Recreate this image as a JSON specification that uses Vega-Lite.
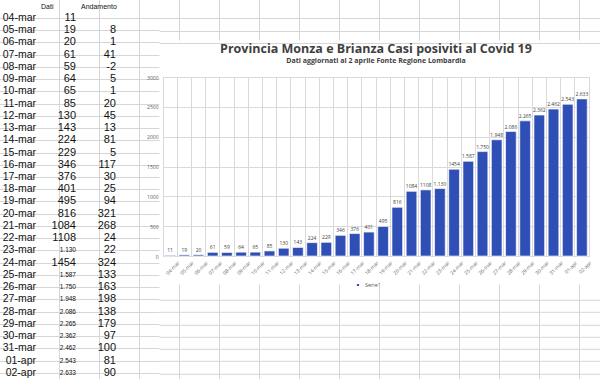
{
  "$schema": "https://vega.github.io/schema/vega-lite/v6.json",
  "padding": 0,
  "background": "white",
  "spacing": 20,
  "bounds": "flush",
  "config": {"view": {"stroke": null}},
  "resolve": {"scale": {"color": "independent"}, "legend": {"color": "independent"}},
  "datasets": {
    "casi": [
      {"date": "04-mar", "dati": 11, "label": "11", "and": null},
      {"date": "05-mar", "dati": 19, "label": "19", "and": 8},
      {"date": "06-mar", "dati": 20, "label": "20", "and": 1},
      {"date": "07-mar", "dati": 61, "label": "61", "and": 41},
      {"date": "08-mar", "dati": 59, "label": "59", "and": -2},
      {"date": "09-mar", "dati": 64, "label": "64", "and": 5},
      {"date": "10-mar", "dati": 65, "label": "65", "and": 1},
      {"date": "11-mar", "dati": 85, "label": "85", "and": 20},
      {"date": "12-mar", "dati": 130, "label": "130", "and": 45},
      {"date": "13-mar", "dati": 143, "label": "143", "and": 13},
      {"date": "14-mar", "dati": 224, "label": "224", "and": 81},
      {"date": "15-mar", "dati": 229, "label": "229", "and": 5},
      {"date": "16-mar", "dati": 346, "label": "346", "and": 117},
      {"date": "17-mar", "dati": 376, "label": "376", "and": 30},
      {"date": "18-mar", "dati": 401, "label": "401", "and": 25},
      {"date": "19-mar", "dati": 495, "label": "495", "and": 94},
      {"date": "20-mar", "dati": 816, "label": "816", "and": 321},
      {"date": "21-mar", "dati": 1084, "label": "1084", "and": 268},
      {"date": "22-mar", "dati": 1108, "label": "1108", "and": 24},
      {"date": "23-mar", "dati": 1130, "label": "1.130", "and": 22},
      {"date": "24-mar", "dati": 1454, "label": "1454", "and": 324},
      {"date": "25-mar", "dati": 1587, "label": "1.587", "and": 133},
      {"date": "26-mar", "dati": 1750, "label": "1.750", "and": 163},
      {"date": "27-mar", "dati": 1948, "label": "1.948", "and": 198},
      {"date": "28-mar", "dati": 2086, "label": "2.086", "and": 138},
      {"date": "29-mar", "dati": 2265, "label": "2.265", "and": 179},
      {"date": "30-mar", "dati": 2362, "label": "2.362", "and": 97},
      {"date": "31-mar", "dati": 2462, "label": "2.462", "and": 100},
      {"date": "01-apr", "dati": 2543, "label": "2.543", "and": 81},
      {"date": "02-apr", "dati": 2633, "label": "2.633", "and": 90}
    ]
  },
  "hconcat": [
    {
      "width": 143,
      "height": 379,
      "data": {"name": "casi"},
      "encoding": {
        "y": {
          "field": "date", "type": "nominal",
          "scale": {
            "domain": ["hdr", "04-mar", "05-mar", "06-mar", "07-mar", "08-mar", "09-mar", "10-mar", "11-mar", "12-mar", "13-mar", "14-mar", "15-mar", "16-mar", "17-mar", "18-mar", "19-mar", "20-mar", "21-mar", "22-mar", "23-mar", "24-mar", "25-mar", "26-mar", "27-mar", "28-mar", "29-mar", "30-mar", "31-mar", "01-apr", "02-apr", "end"],
            "range": [-3.5, 388.2], "paddingInner": 0, "paddingOuter": 0
          },
          "axis": {
            "values": ["04-mar", "05-mar", "06-mar", "07-mar", "08-mar", "09-mar", "10-mar", "11-mar", "12-mar", "13-mar", "14-mar", "15-mar", "16-mar", "17-mar", "18-mar", "19-mar", "20-mar", "21-mar", "22-mar", "23-mar", "24-mar", "25-mar", "26-mar", "27-mar", "28-mar", "29-mar", "30-mar", "31-mar", "01-apr", "02-apr", "end"],
            "bandPosition": 0, "grid": true, "gridColor": "#d6d6d6", "labels": false, "ticks": false, "domain": false, "title": null, "minExtent": 0, "maxExtent": 0
          }
        }
      },
      "layer": [
        {
          "transform": [{"fold": ["date"], "as": ["col", "val"]}],
          "mark": {"type": "text", "align": "right", "baseline": "middle", "dx": 17, "font": "Liberation Sans", "fontSize": 10.5, "color": "#111111"},
          "encoding": {
            "x": {
              "field": "col", "type": "nominal",
              "scale": {"domain": ["date", "label", "and", "D"], "range": [-1, 159], "paddingInner": 0, "paddingOuter": 0},
              "axis": {"values": ["label", "and", "D"], "bandPosition": 0, "grid": true, "gridColor": "#d6d6d6", "labels": false, "ticks": false, "domain": false, "title": null, "minExtent": 0, "maxExtent": 0}
            },
            "text": {"field": "val"}
          }
        },
        {
          "transform": [
            {"fold": ["label", "and"], "as": ["col", "val"]},
            {"filter": "datum.val != null && indexof(toString(datum.val), '.') < 0"}
          ],
          "mark": {"type": "text", "align": "right", "baseline": "middle", "dx": 17, "font": "Liberation Sans Narrow, Arial Narrow, Liberation Sans", "fontSize": 11, "color": "#111111"},
          "encoding": {
            "x": {"field": "col", "type": "nominal"},
            "text": {"field": "val"}
          }
        },
        {
          "transform": [
            {"fold": ["label"], "as": ["col", "val"]},
            {"filter": "indexof(toString(datum.val), '.') >= 0"}
          ],
          "mark": {"type": "text", "align": "right", "baseline": "middle", "dx": 17, "font": "Liberation Sans", "fontSize": 6.5, "color": "#111111"},
          "encoding": {
            "x": {"field": "col", "type": "nominal"},
            "text": {"field": "val"}
          }
        },
        {
          "data": {"values": [{"h": "Dati", "c": "label"}, {"h": "Andamento", "c": "and"}]},
          "mark": {"type": "text", "align": "left", "baseline": "middle", "dx": -18, "dy": 1, "font": "Liberation Sans", "fontSize": 7, "color": "#111111"},
          "encoding": {
            "x": {"field": "c", "type": "nominal"},
            "y": {"datum": "hdr", "type": "nominal"},
            "text": {"field": "h"}
          }
        }
      ]
    },
    {
      "spacing": 40,
      "bounds": "flush",
      "resolve": {"scale": {"color": "independent"}, "legend": {"color": "independent"}},
      "vconcat": [
        {
          "width": 437,
          "height": 34,
          "data": {"values": [{"c": "E", "r": "r0"}]},
          "mark": {"type": "text", "text": ""},
          "encoding": {
            "x": {
              "field": "c", "type": "nominal",
              "scale": {"domain": ["E", "F", "G", "H", "I", "J", "K", "L", "M", "N", "O", "P"], "range": [-4, 476], "paddingInner": 0, "paddingOuter": 0},
              "axis": {"values": ["E", "F", "G", "H", "I", "J", "K", "L", "M", "N", "O", "P"], "bandPosition": 0, "grid": true, "gridColor": "#d6d6d6", "labels": false, "ticks": false, "domain": false, "title": null, "minExtent": 0, "maxExtent": 0}
            },
            "y": {
              "field": "r", "type": "nominal",
              "scale": {"domain": ["r0", "r1", "r2", "r3"], "range": [-3, 45.96], "paddingInner": 0, "paddingOuter": 0},
              "axis": {"values": ["r1", "r2", "r3"], "bandPosition": 0, "grid": true, "gridColor": "#d6d6d6", "labels": false, "ticks": false, "domain": false, "title": null, "minExtent": 0, "maxExtent": 0}
            }
          }
        },
        {
          "spacing": 37.8,
          "bounds": "flush",
          "resolve": {"scale": {"color": "independent"}, "legend": {"color": "independent"}},
          "vconcat": [
            {
              "width": 426,
              "height": 179,
              "data": {"name": "casi"},
              "view": {"stroke": "#d9d9d9"},
              "title": {
                "text": "Provincia Monza e Brianza Casi posiviti al Covid 19",
                "subtitle": "Dati aggiornati al 2 aprile Fonte Regione Lombardia",
                "font": "Open Sans", "fontSize": 12.5, "fontWeight": "bold", "color": "#404040",
                "subtitleFont": "Open Sans", "subtitleFontSize": 7, "subtitleFontWeight": "bold", "subtitleColor": "#404040",
                "subtitlePadding": 2, "anchor": "middle", "offset": 11
              },
              "encoding": {
                "x": {
                  "field": "date", "type": "ordinal", "sort": null,
                  "scale": {"paddingInner": 0, "paddingOuter": 0},
                  "axis": {"title": null, "bandPosition": 0, "labelOffset": 7.1, "labelAngle": -45, "labelFontSize": 5, "labelColor": "#595959", "labelFont": "Open Sans", "grid": true, "gridColor": "#d9d9d9", "ticks": false, "domainColor": "#d9d9d9", "labelPadding": 4, "minExtent": 0}
                },
                "y": {
                  "field": "dati", "type": "quantitative",
                  "scale": {"domain": [0, 3000]},
                  "axis": {"title": null, "values": [0, 500, 1000, 1500, 2000, 2500, 3000], "format": "d", "labelFontSize": 5, "labelFont": "Open Sans", "labelColor": "#595959", "gridColor": "#d9d9d9", "domain": false, "ticks": false, "labelPadding": 5, "minExtent": 0}
                }
              },
              "layer": [
                {
                  "mark": {"type": "bar", "width": {"band": 0.75}, "stroke": "white", "strokeWidth": 0.6},
                  "encoding": {
                    "color": {
                      "datum": "Serie1", "type": "nominal",
                      "scale": {"range": ["#2f4fb6"]},
                      "legend": {"title": null, "orient": "none", "legendX": 192, "legendY": 205, "direction": "horizontal", "symbolType": "square", "symbolSize": 14, "labelFontSize": 5.5, "labelFont": "Open Sans", "labelColor": "#595959"}
                    }
                  }
                },
                {
                  "mark": {"type": "text", "dy": -5, "fontSize": 5, "font": "Open Sans", "color": "#404040"},
                  "encoding": {"text": {"field": "label"}}
                }
              ]
            },
            {
              "width": 437,
              "height": 88.2,
              "data": {"values": [{"c": "E", "r": "s0"}]},
              "mark": {"type": "text", "text": ""},
              "encoding": {
                "x": {
                  "field": "c", "type": "nominal",
                  "scale": {"domain": ["E", "F", "G", "H", "I", "J", "K", "L", "M", "N", "O", "P"], "range": [-4, 476], "paddingInner": 0, "paddingOuter": 0},
                  "axis": {"values": ["E", "F", "G", "H", "I", "J", "K", "L", "M", "N", "O", "P"], "bandPosition": 0, "grid": true, "gridColor": "#d6d6d6", "labels": false, "ticks": false, "domain": false, "title": null, "minExtent": 0, "maxExtent": 0}
                },
                "y": {
                  "field": "r", "type": "nominal",
                  "scale": {"domain": ["s0", "s1", "s2", "s3", "s4", "s5", "s6", "s7"], "range": [0, 97.92], "paddingInner": 0, "paddingOuter": 0},
                  "axis": {"values": ["s0", "s1", "s2", "s3", "s4", "s5", "s6", "s7"], "bandPosition": 0, "grid": true, "gridColor": "#d6d6d6", "labels": false, "ticks": false, "domain": false, "title": null, "minExtent": 0, "maxExtent": 0}
                }
              }
            }
          ]
        }
      ]
    }
  ]
}
